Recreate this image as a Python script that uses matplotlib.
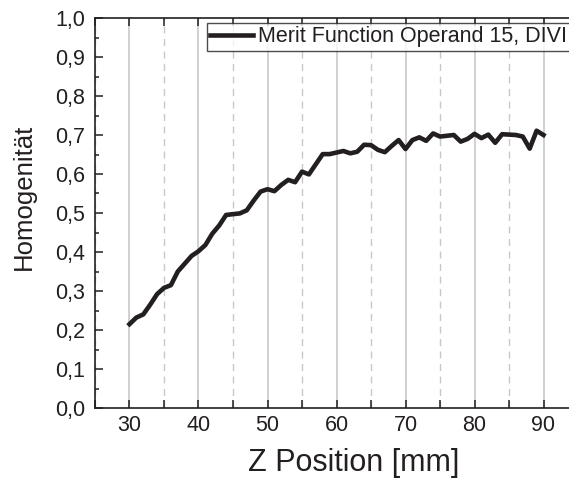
import matplotlib
matplotlib.use("Agg")
import matplotlib.pyplot as plt
from matplotlib.ticker import MultipleLocator, FuncFormatter

z_pos = list(range(30, 91))
homogen = [0.215, 0.232, 0.240, 0.265, 0.292, 0.308, 0.315, 0.350, 0.370, 0.390,
           0.402, 0.418, 0.447, 0.468, 0.495, 0.497, 0.499, 0.507, 0.532, 0.555,
           0.561, 0.556, 0.572, 0.585, 0.579, 0.606, 0.599, 0.625, 0.651, 0.651,
           0.655, 0.659, 0.653, 0.657, 0.675, 0.674, 0.662, 0.656, 0.672, 0.687,
           0.664, 0.687, 0.694, 0.685, 0.704, 0.696, 0.698, 0.700, 0.683, 0.690,
           0.703, 0.692, 0.701, 0.680, 0.702, 0.701, 0.700, 0.696, 0.665, 0.711,
           0.700]
series_label = "Merit Function Operand 15, DIVI"
x_label = "Z Position [mm]"
y_label = "Homogenität"

plt.rcParams['font.family'] = ['Liberation Sans', 'DejaVu Sans']
txt = '#231f20'

fig = plt.figure(figsize=(5.69, 4.78), dpi=100)
# axes extends past the right edge (the reference is cropped there)
ax = fig.add_axes([95/569, 70/478, 517.5/569, 390/478])

ax.plot(z_pos, homogen, color='#231f20', lw=3.3, label=series_label, zorder=3)

ax.set_xlim(25, 100)
ax.set_ylim(0, 1.0)
ax.set_xticks([30, 40, 50, 60, 70, 80, 90])
ax.xaxis.set_minor_locator(MultipleLocator(5))
ax.yaxis.set_major_locator(MultipleLocator(0.1))
ax.yaxis.set_minor_locator(MultipleLocator(0.05))
ax.yaxis.set_major_formatter(FuncFormatter(lambda v, p: f"{v:.1f}".replace('.', ',')))

ax.grid(which='major', axis='x', color='#c8c8c8', lw=1.2, ls='-')
ax.grid(which='minor', axis='x', color='#c8c8c8', lw=1.0, ls=(0, (5, 4)))
ax.set_axisbelow(True)

ax.tick_params(which='both', direction='in', top=True, right=False, width=1.1,
               colors=txt, labelsize=15.5)
ax.tick_params(axis='x', which='both', length=6, pad=5)
ax.tick_params(axis='y', which='major', length=6, pad=7)
ax.tick_params(axis='y', which='minor', length=3)
for s in ax.spines.values():
    s.set_linewidth(1.2)
    s.set_color(txt)

ax.set_xlabel(x_label, fontsize=22, color=txt, labelpad=9)
ax.set_ylabel(y_label, fontsize=18.5, color=txt, va='center')
ax.yaxis.set_label_coords(-71/517.5, 0.541)

leg = ax.legend(loc='upper left', bbox_to_anchor=(112/517.5, 0.987), borderaxespad=0,
                fontsize=15.5, frameon=True, fancybox=False, edgecolor=txt,
                handlelength=2.0, handletextpad=0.2, borderpad=0.15)
leg.get_frame().set_linewidth(1.0)
for t in leg.get_texts():
    t.set_color(txt)

fig.savefig('out.png', dpi=100)
